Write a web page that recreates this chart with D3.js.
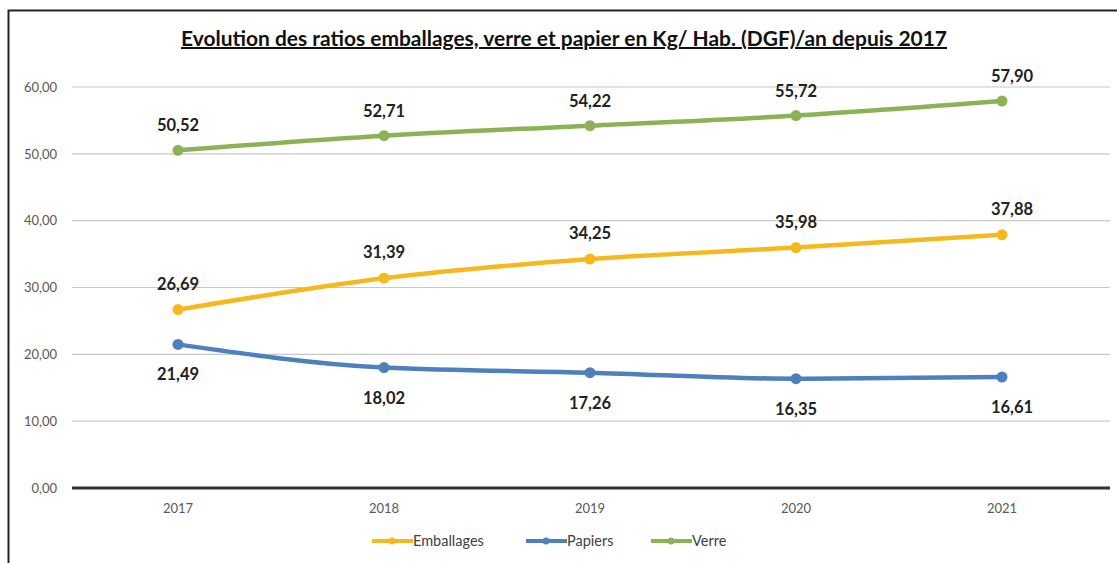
<!DOCTYPE html>
<html><head><meta charset="utf-8">
<script src="https://cdn.jsdelivr.net/npm/d3@7"></script>
<style>body{margin:0;background:#fff}svg{display:block}</style>
</head><body><svg id="c" width="1117" height="563"></svg>
<script>
const years = ["2017","2018","2019","2020","2021"];
const emballages = [26.69, 31.39, 34.25, 35.98, 37.88];
const papiers = [21.49, 18.02, 17.26, 16.35, 16.61];
const verre = [50.52, 52.71, 54.22, 55.72, 57.90];
const yTicks = [0, 10, 20, 30, 40, 50, 60];
const seriesNames = ["Emballages", "Papiers", "Verre"];
const colors = ["#F5B91E", "#4E80BD", "#8DB255"];
const title = "Evolution des ratios emballages, verre et papier en Kg/ Hab. (DGF)/an depuis 2017";

const svg = d3.select("#c");
const font = "Lato, 'Open Sans', sans-serif";
svg.append("rect").attr("x",8.5).attr("y",10.5).attr("width",1120).attr("height",560)
  .attr("fill","#fff").attr("stroke","#222").attr("stroke-width",2);

const x = d3.scaleBand().domain(years).range([75,1105]);
const y = d3.scaleLinear().domain([0,60]).range([488,87]);

svg.append("g").selectAll("line").data(yTicks.filter(d=>d>0)).join("line")
  .attr("x1",72).attr("x2",1110).attr("y1",d=>y(d)).attr("y2",d=>y(d))
  .attr("stroke","#c8c8c8").attr("stroke-width",1.2);
svg.append("line").attr("x1",72).attr("x2",1110).attr("y1",y(0)).attr("y2",y(0))
  .attr("stroke","#333").attr("stroke-width",3);

const fmt = v => d3.format(".2f")(v).replace(".",",");
const ya = d3.axisLeft(y).tickValues(yTicks).tickFormat(fmt).tickSize(0).tickPadding(0);
const yg = svg.append("g").attr("transform","translate(57,0)").call(ya);
yg.select(".domain").remove();
yg.selectAll("text").attr("font-family",font).attr("font-size",13).attr("fill","#595959");

const xa = d3.axisBottom(x).tickSize(0).tickPadding(0);
const xg = svg.append("g").attr("transform","translate(0,504)").call(xa);
xg.select(".domain").remove();
xg.selectAll("text").attr("font-family",font).attr("font-size",13).attr("fill","#595959").attr("dy","0.71em");

const data = [emballages, papiers, verre];
const labelOffsets = [-20, 36, -19];
const line = d3.line().x((d,i)=>x(years[i])+x.bandwidth()/2).y(d=>y(d)).curve(d3.curveMonotoneX);
data.forEach((vals,k)=>{
  const g = svg.append("g");
  g.append("path").datum(vals).attr("d",line).attr("fill","none").attr("stroke",colors[k])
    .attr("stroke-width",4.5).attr("stroke-linecap","round");
  g.selectAll("circle").data(vals).join("circle")
    .attr("cx",(d,i)=>x(years[i])+x.bandwidth()/2).attr("cy",d=>y(d)).attr("r",5.5).attr("fill",colors[k]);
  g.selectAll("text").data(vals).join("text")
    .attr("x",(d,i)=>x(years[i])+x.bandwidth()/2 + (i===4?10:0)).attr("y",d=>y(d)+labelOffsets[k])
    .attr("text-anchor","middle").attr("font-family",font).attr("font-weight","bold")
    .attr("font-size",16.5).attr("fill","#222").text(d=>fmt(d));
});

svg.append("text").attr("x",564).attr("y",46).attr("text-anchor","middle")
  .attr("font-family",font).attr("font-weight","bold").attr("font-size",20)
  .attr("textLength",766).attr("lengthAdjust","spacingAndGlyphs")
  .attr("fill","#111").attr("text-decoration","underline").text(title);

const leg = [{x:372},{x:526},{x:651}];
seriesNames.forEach((n,k)=>{
  const lx = leg[k].x;
  svg.append("line").attr("x1",lx).attr("x2",lx+41).attr("y1",541).attr("y2",541)
    .attr("stroke",colors[k]).attr("stroke-width",4);
  svg.append("circle").attr("cx",lx+20).attr("cy",541).attr("r",3.5).attr("fill",colors[k]);
  svg.append("text").attr("x",lx+41).attr("y",546).attr("font-family",font).attr("font-size",14.5)
    .attr("fill","#404040").text(n);
});
</script></body></html>
